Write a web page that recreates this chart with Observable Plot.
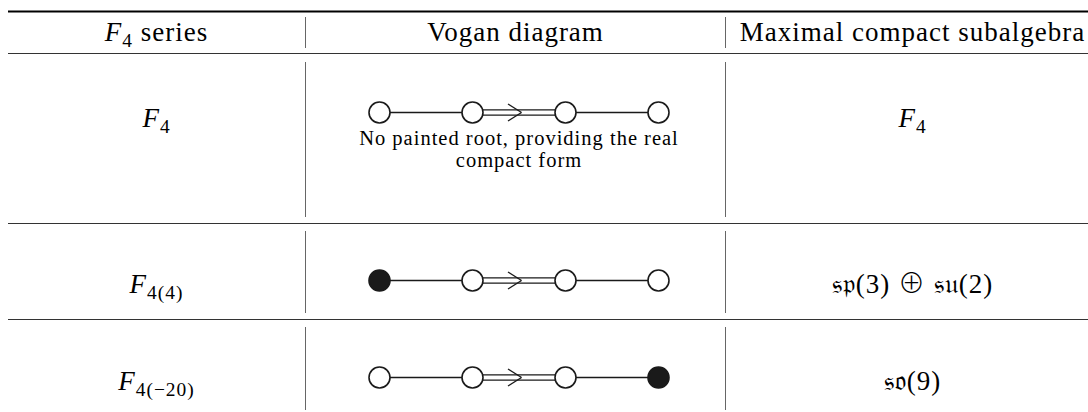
<!DOCTYPE html>
<html>
<head>
<meta charset="utf-8">
<script src="https://cdn.jsdelivr.net/npm/d3@7"></script>
<script src="https://cdn.jsdelivr.net/npm/@observablehq/plot@0.6"></script>
<style>
  html, body { margin: 0; padding: 0; background: #fff; }
  svg { display: block; }
</style>
</head>
<body>
<div id="chart"></div>
<script>
// ---------- data ----------
const headerLabels = ["F4 series", "Vogan diagram", "Maximal compact subalgebra"];
const seriesNames = ["F4", "F4(4)", "F4(−20)"];
const compactSubalgebras = ["F4", "𝔰𝔭(3) ⊕ 𝔰𝔲(2)", "𝔰𝔬(9)"];
const paintedRoots = [[0, 0, 0, 0], [1, 0, 0, 0], [0, 0, 0, 1]];
const bondTypes = ["single", "double", "single"];
const captionLines = ["No painted root, providing the real", "compact form"];

// ---------- layout ----------
const W = 1088, H = 412;
const colSep = [305, 725];
const colCenter = [156, 515, 912];
const diagramCenter = 518.5, nodeGap = 93, nodeR = 10.5;
const ruleLeft = 8;
const headerRule = {top: 11, bottom: 53};
const rowBottoms = [223, 319, 412];
const rowNodeY = [112, 280, 377];
const rowTextY = [126, 292, 389];
const headerTextY = 40;
const captionY = [144, 166];
const vSegs = [[17, 48], [62, 217], [231, 313], [327, 410]];
const serif = "'Liberation Serif', 'DejaVu Serif', serif";
const ink = "#1a1a1a";

const nodeX = i => diagramCenter + (i - 1.5) * nodeGap;

const nodes = [];
paintedRoots.forEach((row, r) => row.forEach((p, i) => nodes.push({x: nodeX(i), y: rowNodeY[r], painted: p})));

const singleBonds = [], doubleBonds = [], chevrons = [];
rowNodeY.forEach(y => {
  bondTypes.forEach((t, i) => {
    const x1 = nodeX(i), x2 = nodeX(i + 1);
    if (t === "single") singleBonds.push({x1, x2, y1: y, y2: y});
    else {
      doubleBonds.push({x1, x2, y1: y - 2.6, y2: y - 2.6});
      doubleBonds.push({x1, x2, y1: y + 2.6, y2: y + 2.6});
      const mid = (x1 + x2) / 2;
      chevrons.push({x1: mid - 11, y1: y - 8.5, x2: mid + 2.5, y2: y});
      chevrons.push({x1: mid - 11, y1: y + 8.5, x2: mid + 2.5, y2: y});
    }
  });
});

const thinRules = [headerRule.bottom, ...rowBottoms.slice(0, -1)].map(y => ({y}));
const vRules = [];
colSep.forEach(x => vSegs.forEach(([y1, y2]) => vRules.push({x, y1, y2})));

const headerData = headerLabels.map((t, i) => ({t, x: colCenter[i], y: headerTextY}));
const seriesData = seriesNames.map((t, i) => ({t, x: colCenter[0], y: rowTextY[i]}));
const compactData = compactSubalgebras.map((t, i) => ({t, x: colCenter[2], y: rowTextY[i]}));
const captionData = captionLines.map((t, i) => ({t, x: diagramCenter, y: captionY[i]}));

const textOpts = {x: "x", y: "y", text: "t", lineAnchor: "bottom", textAnchor: "middle", fontFamily: serif, fill: "#000"};

const chart = Plot.plot({
  width: W, height: H, margin: 0,
  x: {domain: [0, W], range: [0, W], axis: null},
  y: {domain: [0, H], range: [0, H], axis: null},
  style: {background: "#fff"},
  marks: [
    Plot.ruleY([{y: headerRule.top}], {y: "y", x1: ruleLeft, x2: W, stroke: "#000", strokeWidth: 1.8}),
    Plot.ruleY(thinRules, {y: "y", x1: ruleLeft, x2: W, stroke: "#333", strokeWidth: 1}),
    Plot.ruleX(vRules, {x: "x", y1: "y1", y2: "y2", stroke: "#666", strokeWidth: 1}),
    Plot.link(singleBonds, {x1: "x1", y1: "y1", x2: "x2", y2: "y2", stroke: ink, strokeWidth: 1.5}),
    Plot.link(doubleBonds, {x1: "x1", y1: "y1", x2: "x2", y2: "y2", stroke: ink, strokeWidth: 1.4}),
    Plot.link(chevrons, {x1: "x1", y1: "y1", x2: "x2", y2: "y2", stroke: ink, strokeWidth: 1.4}),
    Plot.dot(nodes, {x: "x", y: "y", r: nodeR, fill: d => d.painted ? ink : "#fff", stroke: ink, strokeWidth: 1.6}),
    Plot.text(headerData, {...textOpts, fontSize: 27}),
    Plot.text(seriesData, {...textOpts, fontSize: 27}),
    Plot.text(compactData, {...textOpts, fontSize: 27}),
    Plot.text(captionData, {...textOpts, fontSize: 20.5})
  ]
});

const svg = d3.select(chart);
svg.selectAll("text").each(function () {
  const fs = parseFloat(this.getAttribute("font-size")) || 0;
  const el = d3.select(this);
  if (fs > 24) el.attr("letter-spacing", 0.5);
  else el.attr("letter-spacing", 1.0);
  const s = this.textContent;
  // italic F with subscript
  const m = s.match(/^F(4(?:\([^)]*\))?)(.*)$/);
  if (m) {
    el.text(null);
    el.append("tspan").attr("font-style", "italic").text("F");
    el.append("tspan").attr("font-size", "0.72em").attr("dy", 6).text(m[1]);
    if (m[2]) el.append("tspan").attr("dy", -6).text(m[2]);
    return;
  }
  // lighter direct-sum sign
  if (s.includes("⊕")) {
    const parts = s.split("⊕");
    el.text(null);
    el.append("tspan").text(parts[0]);
    el.append("tspan").attr("font-family", "'Noto Sans CJK JP', 'DejaVu Sans', sans-serif").attr("font-weight", 300).text("⊕");
    el.append("tspan").text(parts[1]);
  }
});

document.getElementById("chart").appendChild(chart);
</script>
</body>
</html>
